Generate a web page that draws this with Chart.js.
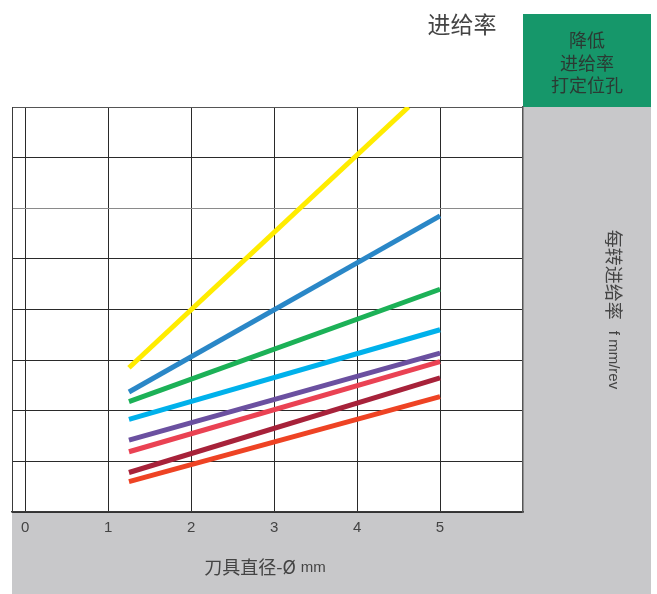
<!DOCTYPE html>
<html>
<head>
<meta charset="utf-8">
<script src="https://cdn.jsdelivr.net/npm/chart.js@4.4.1/dist/chart.umd.min.js"></script>
<style>
html,body{margin:0;padding:0;background:#fff;}
#wrap{width:657px;height:594px;position:relative;}
</style>
</head>
<body>
<div id="wrap"><canvas id="c" width="657" height="594"></canvas></div>
<script>
// ---- data ----
const xTickValues = [0, 1, 2, 3, 4, 5];
const xStartEnd = [1.25, 5];
const yellowX = [1.25, 4.62];
const yellowVals = [2.85, 8.0];
const blueVals = [2.37, 5.85];
const greenVals = [2.18, 4.40];
const cyanVals = [1.83, 3.60];
const purpleVals = [1.42, 3.14];
const pinkVals = [1.19, 2.97];
const darkRedVals = [0.78, 2.65];
const orangeVals = [0.60, 2.28];

const chartTitle = '进给率';
const boxLines = ['降低', '进给率', '打定位孔'];
const xTitleMain = '刀具直径-Ø';
const xTitleUnit = 'mm';
const yTitleMain = '每转进给率';
const yTitleUnit = 'f mm/rev';

const GREY = '#c8c8ca';
const GREEN = '#16976a';
const TEXT = '#444444';
const CJK = "'Noto Sans CJK SC', 'Liberation Sans', sans-serif";
const LAT = "'Liberation Sans', 'Noto Sans CJK SC', sans-serif";

function pts(xs, ys){ return xs.map((x,i)=>({x:x, y:ys[i]})); }
function ds(xs, ys, color){
  return {data: pts(xs, ys), borderColor: color, backgroundColor: color, borderWidth: 5,
          pointRadius: 0, fill: false, tension: 0, clip: 0, borderCapStyle: 'butt'};
}

const bgPlugin = {
  id: 'bg',
  beforeDraw(chart){
    const ctx = chart.ctx, a = chart.chartArea;
    ctx.save();
    ctx.fillStyle = '#fff';
    ctx.fillRect(0,0,chart.width,chart.height);
    ctx.fillStyle = GREY;
    ctx.fillRect(a.left, a.top, 651 - a.left, chart.height - a.top);
    ctx.fillStyle = GREEN;
    ctx.fillRect(a.right, 14, 651 - a.right, a.top - 14);
    ctx.fillStyle = '#fff';
    ctx.fillRect(a.left, a.top, a.right - a.left, a.bottom - a.top);
    ctx.restore();
  },
  afterDraw(chart){
    const ctx = chart.ctx, a = chart.chartArea;
    ctx.save();
    ctx.textBaseline = 'middle';
    // main title
    ctx.fillStyle = TEXT;
    ctx.font = '23px ' + CJK;
    ctx.textAlign = 'center';
    ctx.fillText(chartTitle, 462, 24);
    // green box text
    ctx.fillStyle = '#2b3a33';
    ctx.font = '18px ' + CJK;
    const bx = (a.right + 651)/2;
    const ly = [40, 63, 85];
    boxLines.forEach((t,i)=>ctx.fillText(t, bx, ly[i]));
    // x title
    ctx.fillStyle = TEXT;
    ctx.textAlign = 'left';
    ctx.font = '18px ' + CJK;
    const w1 = ctx.measureText(xTitleMain).width;
    ctx.font = '15px ' + LAT;
    const w2 = ctx.measureText(xTitleUnit).width;
    const gap = 5;
    let sx = 265 - (w1 + gap + w2)/2;
    ctx.font = '18px ' + CJK;
    ctx.fillText(xTitleMain, sx, 567);
    ctx.font = '15px ' + LAT;
    ctx.fillText(xTitleUnit, sx + w1 + gap, 568);
    // y title (rotated, top to bottom)
    ctx.translate(614, (a.top + a.bottom)/2);
    ctx.rotate(Math.PI/2);
    ctx.font = '18px ' + CJK;
    const v1 = ctx.measureText(yTitleMain).width;
    ctx.font = '15px ' + LAT;
    const v2 = ctx.measureText(yTitleUnit).width;
    const g2 = 11;
    let sy = -(v1 + g2 + v2)/2;
    ctx.font = '18px ' + CJK;
    ctx.fillText(yTitleMain, sy, 0);
    ctx.font = '15px ' + LAT;
    ctx.fillText(yTitleUnit, sy + v1 + g2, 1);
    ctx.restore();
  }
};

new Chart(document.getElementById('c'), {
  type: 'line',
  data: {
    datasets: [
      ds(yellowX, yellowVals, '#ffec00'),
      ds(xStartEnd, blueVals, '#2a87c7'),
      ds(xStartEnd, greenVals, '#1cb157'),
      ds(xStartEnd, cyanVals, '#00b1eb'),
      ds(xStartEnd, purpleVals, '#6b50a0'),
      ds(xStartEnd, pinkVals, '#ea4253'),
      ds(xStartEnd, darkRedVals, '#a7223a'),
      ds(xStartEnd, orangeVals, '#ee4324')
    ]
  },
  options: {
    responsive: false,
    animation: false,
    devicePixelRatio: 1,
    layout: {padding: {left: 12, right: 6, top: 107, bottom: 0}},
    plugins: {legend: {display: false}, tooltip: {enabled: false}, title: {display: false}},
    scales: {
      x: {
        type: 'linear', min: -0.16, max: 6,
        afterBuildTicks: s => { s.ticks = xTickValues.map(v => ({value: v})); },
        afterFit: s => { s.height = 82; },
        grid: {color: '#2a2a2a', lineWidth: 1, drawTicks: false},
        border: {display: true, color: '#3a3a3a', width: 1.5},
        ticks: {color: TEXT, font: {family: LAT, size: 15}, padding: 7, autoSkip: false, maxRotation: 0}
      },
      y: {
        type: 'linear', position: 'left', min: 0, max: 8,
        ticks: {display: false, stepSize: 1},
        afterFit: s => { s.width = 0; },
        grid: {drawTicks: false, lineWidth: 1,
               color: c => (c.tick && c.tick.value === 6) ? '#8a8a8a' : (c.tick && c.tick.value === 8 ? '#555' : '#2a2a2a')},
        border: {display: true, color: '#3a3a3a', width: 1}
      },
      y2: {
        type: 'linear', position: 'right', min: 0, max: 8,
        ticks: {display: false},
        afterFit: s => { s.width = 128; },
        grid: {display: false, drawTicks: false},
        border: {display: true, color: '#555', width: 1.5}
      }
    }
  },
  plugins: [bgPlugin]
});
</script>
</body>
</html>
